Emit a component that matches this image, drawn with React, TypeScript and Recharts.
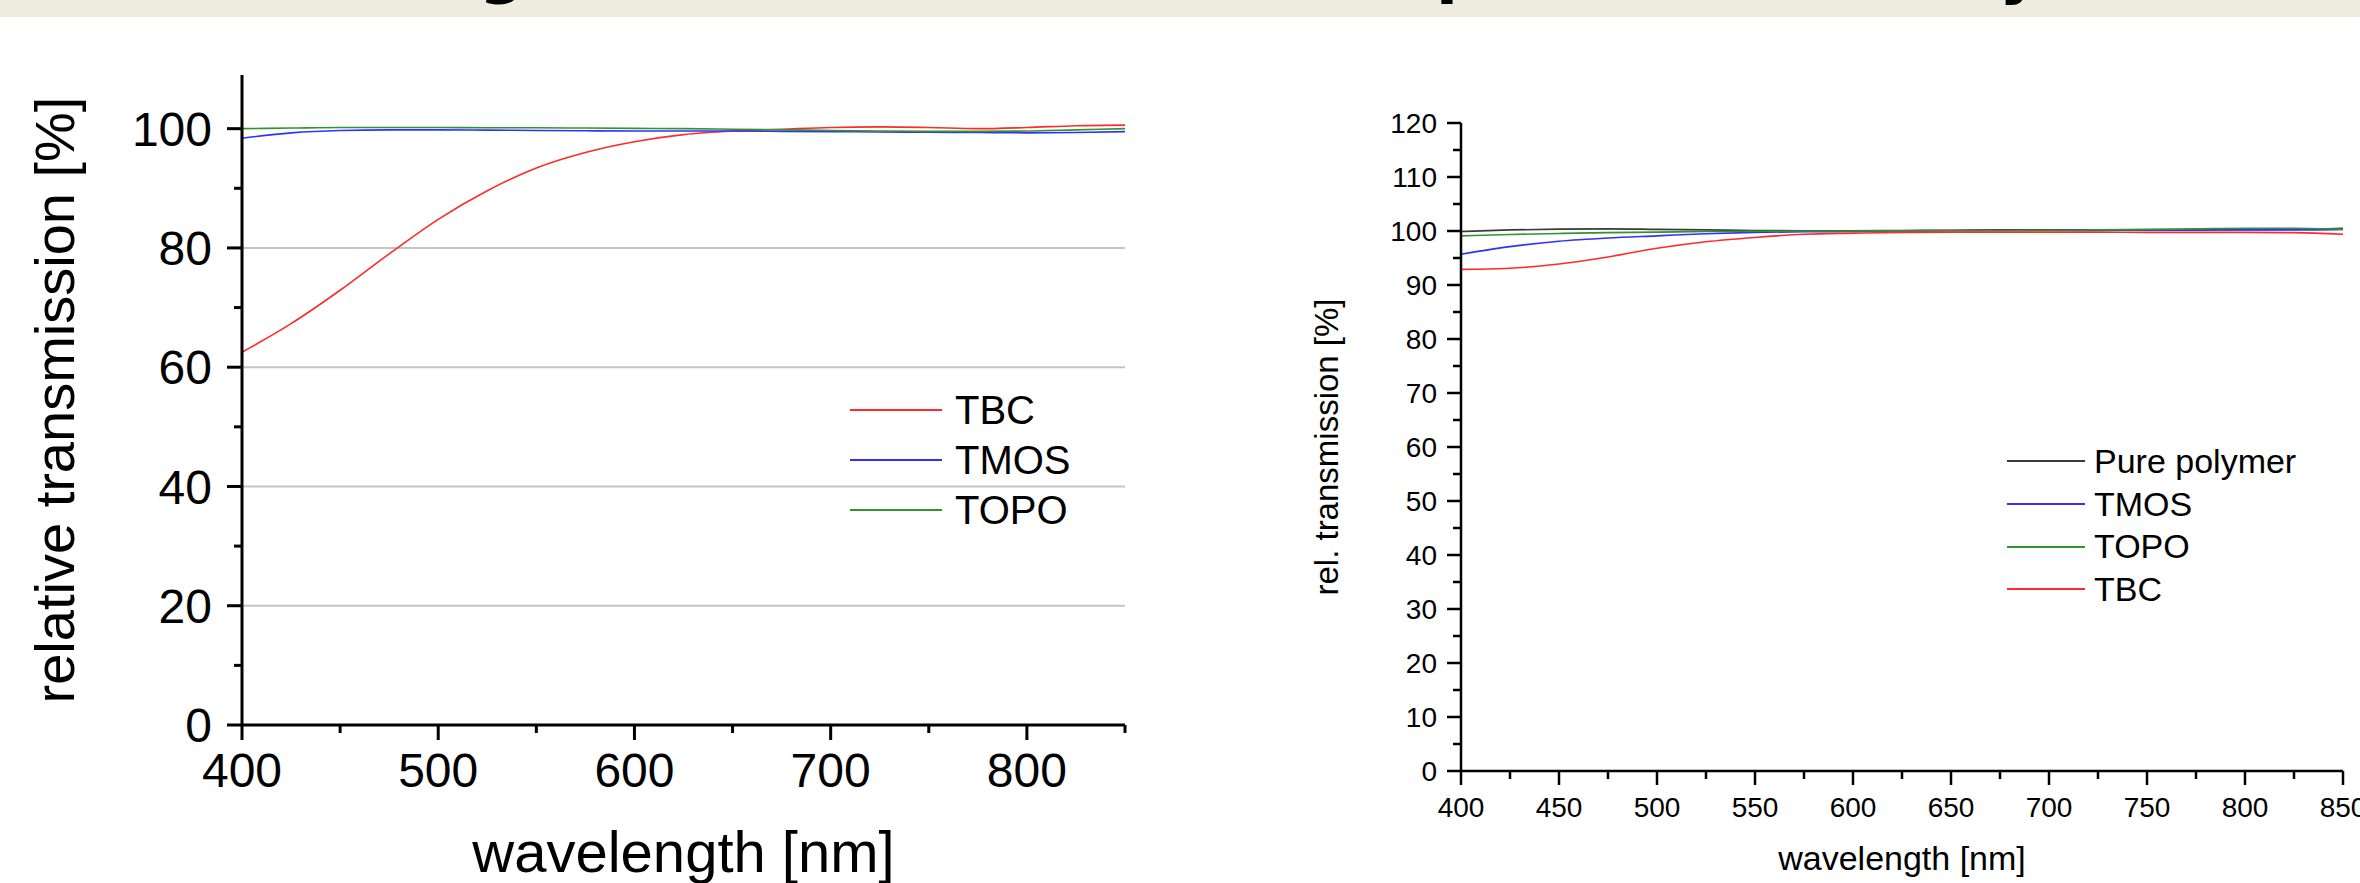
import React from 'react'
import { LineChart, Line, XAxis, YAxis, ReferenceLine, Legend } from 'recharts'

const FONT = '"Liberation Sans", Arial, sans-serif'

// shared wavelength grid [nm]
const wavelengths = [400, 425, 450, 475, 500, 525, 550, 575, 600, 625, 650, 675, 700, 725, 750, 775, 800, 825, 850]

// left panel: relative transmission [%]
const leftSeries = ['TBC', 'TMOS', 'TOPO']
const leftTBC = [62.5, 67.3, 72.9, 79.0, 84.8, 89.6, 93.4, 96.0, 97.8, 99.0, 99.6, 99.9, 100.2, 100.3, 100.2, 100.0, 100.2, 100.5, 100.6]
const leftTMOS = [98.4, 99.3, 99.7, 99.8, 99.8, 99.75, 99.7, 99.65, 99.6, 99.6, 99.6, 99.55, 99.5, 99.45, 99.4, 99.35, 99.3, 99.35, 99.5]
const leftTOPO = [100.0, 100.1, 100.2, 100.2, 100.2, 100.15, 100.15, 100.1, 100.05, 100.0, 99.9, 99.8, 99.7, 99.6, 99.55, 99.55, 99.6, 99.8, 100.0]

// right panel: rel. transmission [%]
const rightSeries = ['Pure polymer', 'TMOS', 'TOPO', 'TBC']
const rightPure = [99.9, 100.2, 100.35, 100.4, 100.3, 100.2, 100.1, 100.05, 100.05, 100.1, 100.15, 100.2, 100.2, 100.2, 100.2, 100.2, 100.25, 100.3, 100.5]
const rightTMOS = [95.7, 97.1, 98.1, 98.7, 99.1, 99.5, 99.75, 99.85, 99.9, 100.0, 100.05, 100.1, 100.1, 100.1, 100.15, 100.15, 100.2, 100.2, 100.3]
const rightTOPO = [99.1, 99.35, 99.55, 99.7, 99.8, 99.9, 99.95, 100.0, 100.0, 100.05, 100.1, 100.1, 100.15, 100.2, 100.3, 100.4, 100.5, 100.5, 100.3]
const rightTBC = [92.9, 93.1, 93.9, 95.2, 96.8, 98.0, 98.8, 99.4, 99.6, 99.75, 99.8, 99.8, 99.8, 99.8, 99.75, 99.75, 99.75, 99.7, 99.4]

// ticks
const leftXTicks = [400, 450, 500, 550, 600, 650, 700, 750, 800, 850]
const leftXMajor = [400, 500, 600, 700, 800]
const leftYTicks = [0, 10, 20, 30, 40, 50, 60, 70, 80, 90, 100]
const leftYMajor = [0, 20, 40, 60, 80, 100]
const leftGrid = [20, 40, 60, 80]

const rightXTicks = [400, 425, 450, 475, 500, 525, 550, 575, 600, 625, 650, 675, 700, 725, 750, 775, 800, 825, 850]
const rightXMajor = [400, 450, 500, 550, 600, 650, 700, 750, 800, 850]
const rightYTicks = [0, 5, 10, 15, 20, 25, 30, 35, 40, 45, 50, 55, 60, 65, 70, 75, 80, 85, 90, 95, 100, 105, 110, 115, 120]
const rightYMajor = [0, 10, 20, 30, 40, 50, 60, 70, 80, 90, 100, 110, 120]

const leftData = wavelengths.map((w, i) => ({ w, TBC: leftTBC[i], TMOS: leftTMOS[i], TOPO: leftTOPO[i] }))
const rightData = wavelengths.map((w, i) => ({
  w,
  'Pure polymer': rightPure[i],
  TMOS: rightTMOS[i],
  TOPO: rightTOPO[i],
  TBC: rightTBC[i],
}))

type TickOpts = {
  side: 'bottom' | 'top' | 'left' | 'right'
  major: number[]
  majorLen: number
  minorLen: number
  sw: number
  fontSize?: number
  gap?: number
  labels?: boolean
}

// origin-style ticks: major/minor lengths, labels only on majors
const makeTick = (o: TickOpts) => (props: any) => {
  const { x, y, payload } = props
  const v = payload.value
  const isMajor = o.major.includes(v)
  const len = isMajor ? o.majorLen : o.minorLen
  const showLabel = o.labels && isMajor
  if (o.side === 'bottom') {
    return (
      <g>
        <line x1={x} y1={y} x2={x} y2={y + len} stroke="#000" strokeWidth={o.sw} />
        {showLabel && (
          <text x={x} y={y + (o.gap || 0)} dy="0.72em" textAnchor="middle" fontSize={o.fontSize} fontFamily={FONT} fill="#000">
            {v}
          </text>
        )}
      </g>
    )
  }
  if (o.side === 'top') {
    return <line x1={x} y1={y} x2={x} y2={y + len} stroke="#000" strokeWidth={o.sw} />
  }
  if (o.side === 'left') {
    return (
      <g>
        <line x1={x - len} y1={y} x2={x} y2={y} stroke="#000" strokeWidth={o.sw} />
        {showLabel && (
          <text x={x - (o.gap || 0)} y={y} dy="0.36em" textAnchor="end" fontSize={o.fontSize} fontFamily={FONT} fill="#000">
            {v}
          </text>
        )}
      </g>
    )
  }
  return <line x1={x - len} y1={y} x2={x} y2={y} stroke="#000" strokeWidth={o.sw} />
}

// legend rows in the given series order (recharts sorts by name otherwise)
const makeLegend = (order: string[], fontSize: number, lineW: number, gap: number, rowH: number) => (props: any) => {
  const items = (props.payload || [])
    .filter((p: any) => p.type !== 'none' && order.includes(p.value))
    .sort((a: any, b: any) => order.indexOf(a.value) - order.indexOf(b.value))
  return (
    <div style={{ fontFamily: FONT, fontSize, color: '#000' }}>
      {items.map((p: any) => (
        <div key={p.value} style={{ display: 'flex', alignItems: 'center', height: rowH, whiteSpace: 'nowrap' }}>
          <div style={{ width: lineW, height: 2, background: p.color, marginRight: gap }} />
          <span>{p.value}</span>
        </div>
      ))}
    </div>
  )
}

const RED = '#ff2a2a'
const BLUE = '#3030ff'
const GREEN = '#2f952f'
const BLACK = '#3a3a3a'

function LeftChart() {
  const sw = 3
  return (
    <LineChart width={1180} height={883} data={leftData} margin={{ top: 75, right: 55, left: 0, bottom: 0 }}>
      <XAxis
        dataKey="w"
        type="number"
        domain={[400, 850]}
        ticks={leftXTicks}
        interval={0}
        height={158}
        tickSize={0}
        tickMargin={0}
        tickLine={false}
        axisLine={{ stroke: '#000', strokeWidth: sw }}
        tick={makeTick({ side: 'bottom', major: leftXMajor, majorLen: 15, minorLen: 8, sw, fontSize: 48, gap: 27, labels: true })}
        label={{ value: 'wavelength [nm]', position: 'insideBottom', offset: 11, fontSize: 58, fontFamily: FONT, fill: '#000' }}
      />
      <XAxis
        xAxisId="top"
        dataKey="w"
        type="number"
        orientation="top"
        domain={[400, 850]}
        ticks={leftXTicks}
        interval={0}
        height={0}
        tickSize={0}
        tickMargin={0}
        tickLine={false}
        axisLine={{ stroke: '#000', strokeWidth: sw }}
        tick={makeTick({ side: 'top', major: leftXMajor, majorLen: 15, minorLen: 8, sw })}
      />
      <YAxis
        type="number"
        domain={[0, 109]}
        allowDataOverflow
        ticks={leftYTicks}
        interval={0}
        width={242}
        tickSize={0}
        tickMargin={0}
        tickLine={false}
        axisLine={{ stroke: '#000', strokeWidth: sw }}
        tick={makeTick({ side: 'left', major: leftYMajor, majorLen: 15, minorLen: 8, sw, fontSize: 48, gap: 30, labels: true })}
        label={{
          value: 'relative transmission [%]',
          angle: -90,
          position: 'insideLeft',
          offset: 54,
          fontSize: 56,
          fontFamily: FONT,
          fill: '#000',
          style: { textAnchor: 'middle' },
        }}
      />
      <YAxis
        yAxisId="r"
        type="number"
        orientation="right"
        domain={[0, 109]}
        allowDataOverflow
        ticks={leftYTicks}
        interval={0}
        width={0}
        tickSize={0}
        tickMargin={0}
        tickLine={false}
        axisLine={{ stroke: '#000', strokeWidth: sw }}
        tick={makeTick({ side: 'right', major: leftYMajor, majorLen: 15, minorLen: 8, sw })}
      />
      {leftGrid.map((g) => (
        <ReferenceLine key={g} y={g} stroke="#c4c4c4" strokeWidth={2} />
      ))}
      <Legend
        layout="vertical"
        align="center"
        verticalAlign="middle"
        wrapperStyle={{ left: 850, top: 385, width: 'auto' }}
        content={makeLegend(leftSeries, 40, 92, 13, 50)}
      />
      <Line dataKey="TBC" type="monotone" stroke={RED} strokeWidth={1.6} dot={false} isAnimationActive={false} />
      <Line dataKey="TMOS" type="monotone" stroke={BLUE} strokeWidth={1.6} dot={false} isAnimationActive={false} />
      <Line dataKey="TOPO" type="monotone" stroke={GREEN} strokeWidth={1.6} dot={false} isAnimationActive={false} />
      <Line
        dataKey="TOPO"
        name="frame"
        xAxisId="top"
        yAxisId="r"
        stroke="none"
        dot={false}
        legendType="none"
        isAnimationActive={false}
      />
    </LineChart>
  )
}

function RightChart() {
  const sw = 2.5
  return (
    <LineChart width={1110} height={883} data={rightData} margin={{ top: 123, right: 17, left: 0, bottom: 0 }}>
      <XAxis
        dataKey="w"
        type="number"
        domain={[400, 850]}
        ticks={rightXTicks}
        interval={0}
        height={112}
        tickSize={0}
        tickMargin={0}
        tickLine={false}
        axisLine={{ stroke: '#000', strokeWidth: sw }}
        tick={makeTick({ side: 'bottom', major: rightXMajor, majorLen: 14, minorLen: 8, sw, fontSize: 28, gap: 26, labels: true })}
        label={{ value: 'wavelength [nm]', position: 'insideBottom', offset: 13, fontSize: 34, fontFamily: FONT, fill: '#000' }}
      />
      <XAxis
        xAxisId="top"
        dataKey="w"
        type="number"
        orientation="top"
        domain={[400, 850]}
        ticks={rightXTicks}
        interval={0}
        height={0}
        tickSize={0}
        tickMargin={0}
        tickLine={false}
        axisLine={{ stroke: '#000', strokeWidth: sw }}
        tick={makeTick({ side: 'top', major: rightXMajor, majorLen: 14, minorLen: 8, sw })}
      />
      <YAxis
        type="number"
        domain={[0, 120]}
        allowDataOverflow
        ticks={rightYTicks}
        interval={0}
        width={211}
        tickSize={0}
        tickMargin={0}
        tickLine={false}
        axisLine={{ stroke: '#000', strokeWidth: sw }}
        tick={makeTick({ side: 'left', major: rightYMajor, majorLen: 14, minorLen: 8, sw, fontSize: 28, gap: 24, labels: true })}
        label={{
          value: 'rel. transmission [%]',
          angle: -90,
          position: 'insideLeft',
          offset: 76,
          fontSize: 33,
          fontFamily: FONT,
          fill: '#000',
          style: { textAnchor: 'middle' },
        }}
      />
      <YAxis
        yAxisId="r"
        type="number"
        orientation="right"
        domain={[0, 120]}
        allowDataOverflow
        ticks={rightYTicks}
        interval={0}
        width={0}
        tickSize={0}
        tickMargin={0}
        tickLine={false}
        axisLine={{ stroke: '#000', strokeWidth: sw }}
        tick={makeTick({ side: 'right', major: rightYMajor, majorLen: 14, minorLen: 8, sw })}
      />
      <Legend
        layout="vertical"
        align="center"
        verticalAlign="middle"
        wrapperStyle={{ left: 757, top: 440, width: 'auto' }}
        content={makeLegend(rightSeries, 34, 78, 9, 42.7)}
      />
      <Line dataKey="Pure polymer" type="monotone" stroke={BLACK} strokeWidth={1.6} dot={false} isAnimationActive={false} />
      <Line dataKey="TMOS" type="monotone" stroke={BLUE} strokeWidth={1.6} dot={false} isAnimationActive={false} />
      <Line dataKey="TOPO" type="monotone" stroke={GREEN} strokeWidth={1.6} dot={false} isAnimationActive={false} />
      <Line dataKey="TBC" type="monotone" stroke={RED} strokeWidth={1.6} dot={false} isAnimationActive={false} />
      <Line
        dataKey="TBC"
        name="frame"
        xAxisId="top"
        yAxisId="r"
        stroke="none"
        dot={false}
        legendType="none"
        isAnimationActive={false}
      />
    </LineChart>
  )
}

export default function App() {
  return (
    <div style={{ position: 'absolute', left: 0, top: 0, width: 2360, height: 883, background: '#fff', overflow: 'hidden' }}>
      {/* cut-off title banner from the slide */}
      <svg width={2360} height={17} style={{ position: 'absolute', left: 0, top: 0 }}>
        <rect x={0} y={0} width={2360} height={17} fill="#eeebdf" />
        <text x={502} y={-9} textAnchor="middle" fontSize={64} fontWeight="bold" fontFamily="DejaVu Sans" fill="#000">g</text>
        <text x={1436} y={-9} fontSize={64} fontWeight="bold" fontFamily="DejaVu Sans" fill="#000">p</text>
        <text x={2020} y={-9} textAnchor="middle" fontSize={64} fontWeight="bold" fontFamily="DejaVu Sans" fill="#000">y</text>
      </svg>
      <div style={{ position: 'absolute', left: 0, top: 0 }}>
        <LeftChart />
      </div>
      <div style={{ position: 'absolute', left: 1250, top: 0 }}>
        <RightChart />
      </div>
    </div>
  )
}
